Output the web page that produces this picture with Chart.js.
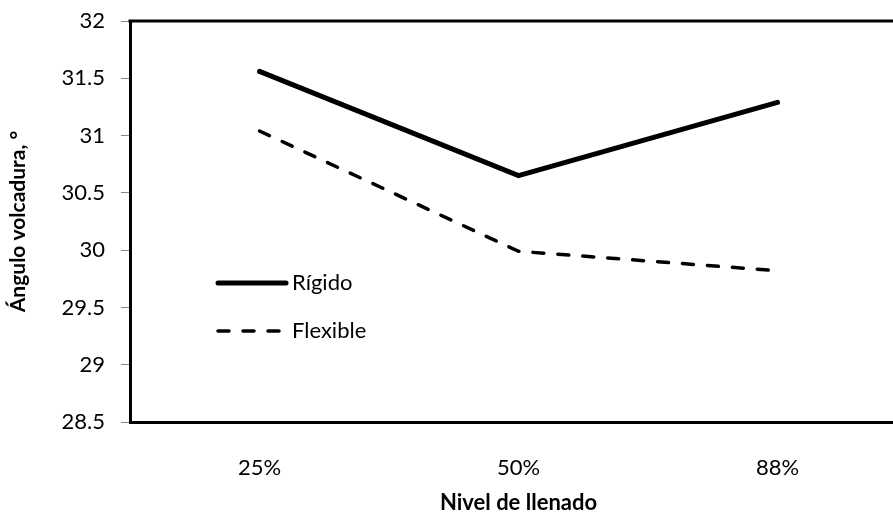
<!DOCTYPE html>
<html>
<head>
<meta charset="utf-8">
<script src="https://cdn.jsdelivr.net/npm/chart.js@4"></script>
<style>
  html, body { margin: 0; padding: 0; background: #fff; overflow: hidden; }
  #wrap { width: 893px; height: 529px; overflow: hidden; }
</style>
</head>
<body>
<div id="wrap"><canvas id="volcadura" width="912" height="529"></canvas></div>
<script>
const niveles = ['25%', '50%', '88%']
const rigido = [31.56, 30.65, 31.29]
const flexible = [31.04, 29.99, 29.82]
const yMin = 28.5, yMax = 32, yStep = 0.5

const font = "Lato, 'Open Sans', sans-serif"

// top border of the plot frame + legend inside the plot
const framePlugin = {
    id: 'frame',
    afterDatasetsDraw(chart) {
        const ctx = chart.ctx
        const a = chart.chartArea
        ctx.save()
        ctx.strokeStyle = '#000'
        ctx.lineWidth = 3
        ctx.beginPath()
        ctx.moveTo(a.left - 1.5, a.top)
        ctx.lineTo(a.right + 20, a.top)
        ctx.stroke()

        // legend
        let y = 283
        chart.data.datasets.forEach(ds => {
            ctx.strokeStyle = ds.borderColor
            ctx.lineWidth = ds.borderWidth
            ctx.lineCap = 'round'
            ctx.setLineDash(ds.borderDash || [])
            ctx.beginPath()
            ctx.moveTo(218, y)
            ctx.lineTo(286, y)
            ctx.stroke()
            ctx.setLineDash([])
            ctx.fillStyle = '#000'
            ctx.font = '22px ' + font
            ctx.textBaseline = 'middle'
            ctx.fillText(ds.label, 292, y)
            y += 48
        })
        ctx.restore()
    }
}

new Chart(document.getElementById('volcadura').getContext('2d'), {
    type: 'line',
    data: {
        labels: niveles,
        datasets: [
            {
                label: 'Rígido',
                data: rigido,
                borderColor: '#000',
                borderWidth: 5,
                pointRadius: 0,
                fill: false,
                tension: 0,
                borderCapStyle: 'round'
            },
            {
                label: 'Flexible',
                data: flexible,
                borderColor: '#000',
                borderWidth: 3.5,
                borderDash: [11, 14],
                pointRadius: 0,
                fill: false,
                tension: 0,
                borderCapStyle: 'round'
            }
        ]
    },
    plugins: [framePlugin],
    options: {
        responsive: false,
        animation: false,
        layout: { padding: { top: 21, left: 0, right: 5, bottom: 0 } },
        plugins: {
            legend: { display: false },
            tooltip: { enabled: false }
        },
        scales: {
            x: {
                offset: true,
                grid: { display: false, drawTicks: false },
                border: { color: '#000', width: 3 },
                ticks: { color: '#000', padding: 33, font: { family: font, size: 22 } },
                title: {
                    display: true,
                    text: 'Nivel de llenado',
                    color: '#000',
                    font: { family: font, size: 22, weight: 'bold' },
                    padding: { top: 0, bottom: 13 }
                },
                afterFit: s => { s.height = 107 }
            },
            y: {
                min: yMin,
                max: yMax,
                grid: { drawOnChartArea: false, color: '#888', tickLength: 9 },
                border: { color: '#000', width: 3 },
                ticks: {
                    stepSize: yStep,
                    color: '#000',
                    padding: 16,
                    font: { family: font, size: 22 },
                    callback: v => String(v)
                },
                title: {
                    display: true,
                    text: 'Ángulo volcadura, °',
                    color: '#000',
                    font: { family: font, size: 21, weight: 'bold' },
                    padding: { top: 6, bottom: 0 }
                },
                afterFit: s => {
                    s.width = 130
                    s.paddingTop = 0
                    s.paddingBottom = 0
                }
            }
        }
    }
})
</script>
</body>
</html>
